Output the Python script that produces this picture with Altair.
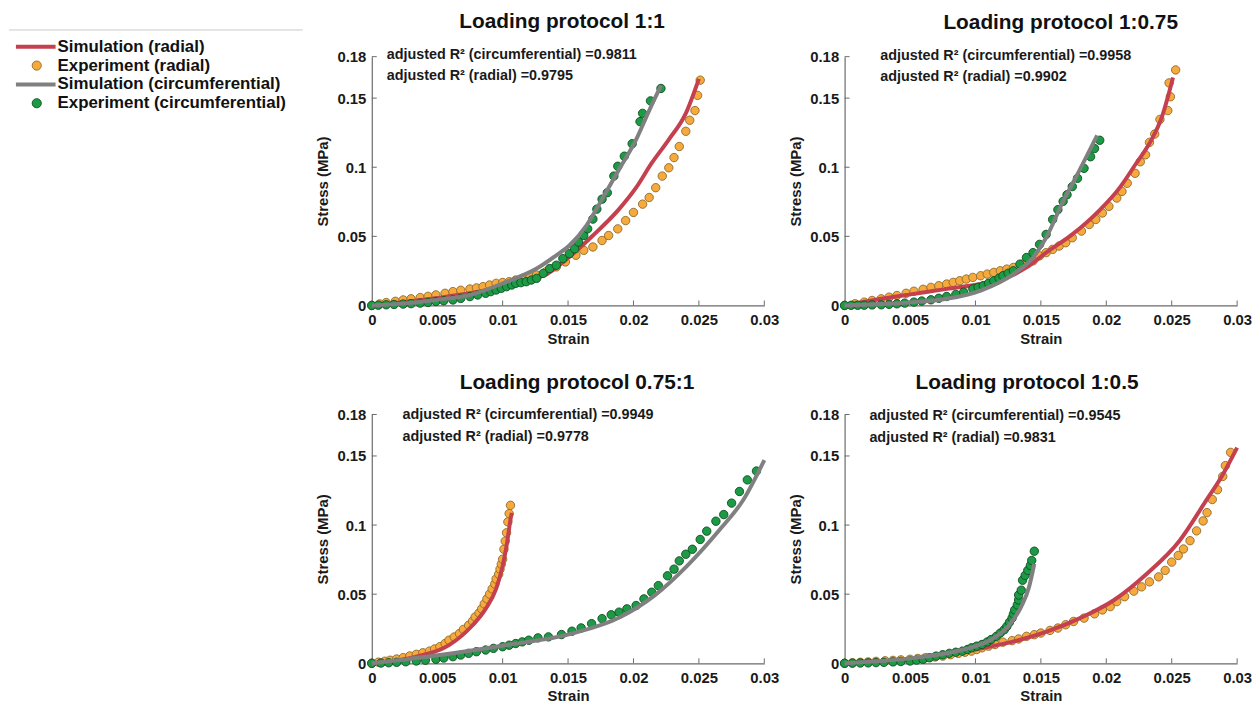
import altair as alt
import pandas as pd

FONT = "Liberation Sans"
RED = "#C4404E"
GRAY = "#808080"
ORANGE = "#F7AA3C"
GREEN = "#1C9A45"
ORANGE_EDGE = "#8C6A2C"
GREEN_EDGE = "#0E4F22"

SERIES = ["Simulation (radial)", "Experiment (radial)",
          "Simulation (circumferential)", "Experiment (circumferential)"]
SERIES_COLORS = [RED, ORANGE, GRAY, GREEN]
SERIES_EDGES = [RED, ORANGE_EDGE, GRAY, GREEN_EDGE]

X_TICKS = [0, 0.005, 0.01, 0.015, 0.02, 0.025, 0.03]
Y_TICKS = [0, 0.05, 0.1, 0.15, 0.18]

# ---------------- Panel 1 : Loading protocol 1:1 ----------------
p1_title = "Loading protocol 1:1"
p1_r2 = ["adjusted R\u00b2 (circumferential) =0.9811", "adjusted R\u00b2 (radial) =0.9795"]
p1_rad_exp_x = [0, 0.0006, 0.0011, 0.0018, 0.0024, 0.003, 0.0037, 0.0043, 0.0049, 0.0056, 0.0062, 0.0068,
                0.0075, 0.008, 0.0085, 0.009, 0.0095, 0.01, 0.0105, 0.011, 0.0115, 0.0121, 0.0126, 0.0133,
                0.0141, 0.0148, 0.0156, 0.0162, 0.0169, 0.0176, 0.0181, 0.0188, 0.0194, 0.02, 0.0207,
                0.0212, 0.0217, 0.0222, 0.0227, 0.0231, 0.0235, 0.024, 0.0243, 0.0247, 0.0249, 0.0251]
p1_rad_exp_y = [0, 0.0011, 0.0021, 0.003, 0.004, 0.0048, 0.0057, 0.0066, 0.0076, 0.0088, 0.01, 0.011,
                0.0119, 0.0127, 0.0136, 0.0148, 0.016, 0.0166, 0.0172, 0.0184, 0.0196, 0.0208, 0.022, 0.0243,
                0.0279, 0.0315, 0.0363, 0.0399, 0.0423, 0.047, 0.0506, 0.0554, 0.0614, 0.0673, 0.0733,
                0.0781, 0.0852, 0.0936, 0.0996, 0.107, 0.115, 0.126, 0.134, 0.141, 0.152, 0.163]
p1_rad_sim_x = [0, 0.0025, 0.0049, 0.0075, 0.01, 0.012, 0.0133, 0.0151, 0.0169, 0.0189, 0.0202, 0.0214,
                0.0227, 0.024, 0.025]
p1_rad_sim_y = [0, 0.0025, 0.0053, 0.0088, 0.0136, 0.0184, 0.0224, 0.0351, 0.0506, 0.0697, 0.0852, 0.1031,
                0.12, 0.139, 0.164]
p1_circ_exp_x = [0, 0.0005, 0.0011, 0.0017, 0.0024, 0.003, 0.0037, 0.0043, 0.0049, 0.0055, 0.0062, 0.0068,
                 0.0075, 0.0081, 0.0087, 0.0091, 0.0095, 0.0099, 0.0103, 0.0107, 0.011, 0.0114, 0.0118,
                 0.0122, 0.0126, 0.0131, 0.0136, 0.0141, 0.0146, 0.0151, 0.0155, 0.0158, 0.0162, 0.0165,
                 0.0169, 0.0172, 0.0176, 0.018, 0.0185, 0.0188, 0.0193, 0.0199, 0.0205, 0.0207, 0.0213, 0.0221]
p1_circ_exp_y = [0, 0.0002, 0.0005, 0.0007, 0.001, 0.0013, 0.0017, 0.0022, 0.0029, 0.0034, 0.004, 0.0051,
                 0.0064, 0.0076, 0.0088, 0.01, 0.0112, 0.0124, 0.0136, 0.0148, 0.016, 0.0165, 0.0172,
                 0.0184, 0.0196, 0.0232, 0.0267, 0.0291, 0.0339, 0.0375, 0.041, 0.0458, 0.0506, 0.0554,
                 0.0625, 0.0697, 0.0769, 0.0816, 0.0936, 0.1007, 0.108, 0.117, 0.133, 0.139, 0.148, 0.157]
p1_circ_sim_x = [0, 0.0025, 0.0049, 0.0075, 0.01, 0.0126, 0.0141, 0.0151, 0.0164, 0.0176, 0.0189, 0.0202,
                 0.0212, 0.0221]
p1_circ_sim_y = [0, 0.0015, 0.004, 0.0076, 0.016, 0.0267, 0.0363, 0.0434, 0.0578, 0.0769, 0.0984, 0.12,
                 0.141, 0.159]

# ---------------- Panel 2 : Loading protocol 1:0.75 ----------------
p2_title = "Loading protocol 1:0.75"
p2_r2 = ["adjusted R\u00b2 (circumferential) =0.9958", "adjusted R\u00b2 (radial) =0.9902"]
p2_rad_exp_x = [0, 0.0008, 0.0015, 0.0021, 0.0028, 0.0034, 0.004, 0.0047, 0.0053, 0.006, 0.0066, 0.0072,
                0.0078, 0.0083, 0.0088, 0.0093, 0.0098, 0.0104, 0.0109, 0.0114, 0.0119, 0.0124, 0.0129,
                0.0136, 0.0144, 0.0149, 0.0154, 0.0159, 0.0164, 0.0169, 0.0174, 0.0181, 0.0187, 0.0192,
                0.0197, 0.0202, 0.0208, 0.0212, 0.0216, 0.0222, 0.0226, 0.023, 0.0233, 0.0237, 0.0241,
                0.0247, 0.0249, 0.0248, 0.0253]
p2_rad_exp_y = [0, 0.0012, 0.0024, 0.0036, 0.0048, 0.006, 0.0072, 0.0088, 0.0103, 0.0117, 0.0131, 0.0143,
                0.0155, 0.0167, 0.0179, 0.0191, 0.0203, 0.0215, 0.0227, 0.0239, 0.0251, 0.0263, 0.0275,
                0.0299, 0.0323, 0.0359, 0.0382, 0.0406, 0.043, 0.0454, 0.049, 0.0538, 0.0586, 0.0622,
                0.0669, 0.0717, 0.0777, 0.0825, 0.0884, 0.0956, 0.104, 0.109, 0.118, 0.124, 0.1346,
                0.141, 0.151, 0.161, 0.1704]
p2_rad_sim_x = [0, 0.0028, 0.0053, 0.0078, 0.0104, 0.0125, 0.0139, 0.0154, 0.0174, 0.0194, 0.021, 0.0222,
                0.0235, 0.0242, 0.0251]
p2_rad_sim_y = [0, 0.0048, 0.0084, 0.012, 0.0155, 0.0205, 0.0275, 0.0382, 0.0514, 0.0681, 0.0849, 0.1016,
                0.1207, 0.1351, 0.165]
p2_circ_exp_x = [0, 0.0005, 0.001, 0.0015, 0.0021, 0.0028, 0.0034, 0.004, 0.0046, 0.0053, 0.0059, 0.0066,
                 0.0072, 0.0078, 0.0085, 0.0091, 0.0098, 0.0102, 0.0106, 0.011, 0.0114, 0.0118, 0.0121,
                 0.0125, 0.0129, 0.0134, 0.0139, 0.0144, 0.0149, 0.0154, 0.0159, 0.0163, 0.0167, 0.017,
                 0.0174, 0.0178, 0.0183, 0.0188, 0.0191, 0.0195]
p2_circ_exp_y = [0, 0.0001, 0.0001, 0.0002, 0.0004, 0.0005, 0.0008, 0.0012, 0.0017, 0.0024, 0.0032, 0.0041,
                 0.0052, 0.0065, 0.008, 0.0096, 0.012, 0.0131, 0.0143, 0.0161, 0.0179, 0.0197, 0.0215,
                 0.0233, 0.0251, 0.0299, 0.0347, 0.0382, 0.0442, 0.0514, 0.0622, 0.0693, 0.0753, 0.0801,
                 0.086, 0.092, 0.0992, 0.1076, 0.1135, 0.1195]
p2_circ_sim_x = [0, 0.0025, 0.0053, 0.0078, 0.0104, 0.0129, 0.0144, 0.0154, 0.0167, 0.0179, 0.0193]
p2_circ_sim_y = [0, 0.0008, 0.0024, 0.0048, 0.0108, 0.0227, 0.0347, 0.049, 0.0753, 0.0968, 0.123]

# ---------------- Panel 3 : Loading protocol 0.75:1 ----------------
p3_title = "Loading protocol 0.75:1"
p3_r2 = ["adjusted R\u00b2 (circumferential) =0.9949", "adjusted R\u00b2 (radial) =0.9778"]
p3_rad_exp_x = [0, 0.0005, 0.001, 0.0014, 0.0019, 0.0024, 0.0029, 0.0034, 0.0039, 0.0044, 0.0048, 0.0052,
                0.0056, 0.0059, 0.0063, 0.0067, 0.007, 0.0074, 0.0077, 0.0079, 0.0082, 0.0084, 0.0086,
                0.0088, 0.009, 0.0092, 0.0094, 0.0095, 0.0097, 0.0098, 0.0099, 0.01, 0.0101, 0.0102,
                0.0103, 0.0104, 0.0105, 0.0106]
p3_rad_exp_y = [0, 0.0008, 0.0015, 0.0022, 0.0031, 0.0041, 0.0053, 0.0065, 0.0076, 0.0088, 0.0104, 0.012,
                0.0143, 0.0167, 0.019, 0.0215, 0.0245, 0.0275, 0.0305, 0.0335, 0.0364, 0.0394, 0.043,
                0.0466, 0.05, 0.0538, 0.0574, 0.061, 0.0645, 0.0681, 0.0717, 0.0753, 0.0825, 0.0884,
                0.0944, 0.1023, 0.1083, 0.1143]
p3_rad_sim_x = [0, 0.0018, 0.0034, 0.0059, 0.0077, 0.0087, 0.0095, 0.01, 0.0103, 0.0106, 0.0107]
p3_rad_sim_y = [0, 0.0018, 0.0048, 0.0131, 0.0275, 0.0394, 0.0538, 0.0705, 0.0849, 0.104, 0.1088]
p3_circ_exp_x = [0, 0.0007, 0.0013, 0.0019, 0.0026, 0.0034, 0.0041, 0.0049, 0.0055, 0.0062, 0.0068, 0.0074,
                 0.008, 0.0087, 0.0093, 0.01, 0.0105, 0.011, 0.0115, 0.012, 0.0127, 0.0135, 0.0145,
                 0.0153, 0.016, 0.0168, 0.0176, 0.0183, 0.0189, 0.0195, 0.0202, 0.0208, 0.0214, 0.0219,
                 0.0226, 0.0231, 0.0235, 0.024, 0.0245, 0.0251, 0.0256, 0.0263, 0.0269, 0.0275, 0.0281,
                 0.0287, 0.0294]
p3_circ_exp_y = [0, 0.0002, 0.0004, 0.0007, 0.0011, 0.0017, 0.0022, 0.0029, 0.0038, 0.0048, 0.006, 0.0072,
                 0.0084, 0.0096, 0.0108, 0.012, 0.0131, 0.0143, 0.0155, 0.0167, 0.0184, 0.0191, 0.0208,
                 0.0232, 0.0256, 0.0287, 0.0323, 0.0351, 0.037, 0.0394, 0.0418, 0.0466, 0.0514, 0.0562,
                 0.0633, 0.0681, 0.0741, 0.0789, 0.0825, 0.0896, 0.0956, 0.1028, 0.1076, 0.1159, 0.1243,
                 0.1327, 0.1391]
p3_circ_sim_x = [0, 0.0052, 0.0102, 0.0153, 0.019, 0.0216, 0.0241, 0.0266, 0.0284, 0.03]
p3_circ_sim_y = [0, 0.006, 0.0131, 0.0215, 0.0335, 0.049, 0.0705, 0.0968, 0.1183, 0.147]

# ---------------- Panel 4 : Loading protocol 1:0.5 ----------------
p4_title = "Loading protocol 1:0.5"
p4_r2 = ["adjusted R\u00b2 (circumferential) =0.9545", "adjusted R\u00b2 (radial) =0.9831"]
p4_rad_exp_x = [0, 0.0006, 0.0012, 0.0018, 0.0024, 0.0031, 0.0037, 0.0043, 0.005, 0.0056, 0.0062, 0.0069,
                0.0075, 0.0081, 0.0087, 0.0092, 0.0097, 0.0101, 0.0105, 0.011, 0.0115, 0.0121, 0.0128,
                0.0133, 0.0139, 0.0145, 0.015, 0.0157, 0.0163, 0.0169, 0.0175, 0.0183, 0.0191, 0.0197,
                0.0203, 0.0208, 0.0214, 0.0221, 0.0227, 0.0233, 0.024, 0.0245, 0.025, 0.0255, 0.0259,
                0.0264, 0.0269, 0.0274, 0.0277, 0.0281, 0.0285, 0.0289, 0.0291, 0.0295]
p4_rad_exp_y = [0, 0.0004, 0.0007, 0.001, 0.0014, 0.0018, 0.0021, 0.0025, 0.0029, 0.0035, 0.0041, 0.0046,
                0.0052, 0.0062, 0.0072, 0.008, 0.0088, 0.01, 0.0112, 0.0124, 0.0136, 0.0153, 0.0164,
                0.0176, 0.0195, 0.0207, 0.0219, 0.0238, 0.0255, 0.0279, 0.0303, 0.0327, 0.0358, 0.0386,
                0.041, 0.0446, 0.0482, 0.0522, 0.0553, 0.0589, 0.0625, 0.0672, 0.0732, 0.078, 0.0827,
                0.0887, 0.0958, 0.103, 0.109, 0.1185, 0.1256, 0.1352, 0.143, 0.1526]
p4_rad_sim_x = [0, 0.0055, 0.008, 0.01, 0.013, 0.0155, 0.018, 0.0206, 0.0231, 0.0256, 0.0276, 0.0289, 0.03]
p4_rad_sim_y = [0, 0.0029, 0.0064, 0.01, 0.016, 0.0231, 0.0327, 0.0458, 0.0648, 0.0887, 0.1173, 0.1364, 0.156]
p4_circ_exp_x = [0, 0.0006, 0.0012, 0.0018, 0.0024, 0.003, 0.0037, 0.0043, 0.005, 0.0055, 0.006, 0.0065,
                 0.007, 0.0075, 0.008, 0.0085, 0.009, 0.0094, 0.0097, 0.0101, 0.0105, 0.0109, 0.0112,
                 0.0116, 0.0119, 0.0122, 0.0124, 0.0126, 0.0128, 0.0129, 0.013, 0.0132, 0.0133, 0.0133,
                 0.0135, 0.0136, 0.0138, 0.014, 0.0142, 0.0143, 0.0145]
p4_circ_exp_y = [0, 0.0001, 0.0002, 0.0003, 0.0005, 0.0007, 0.001, 0.0013, 0.0017, 0.0023, 0.0029, 0.004,
                 0.0052, 0.0062, 0.0072, 0.008, 0.0088, 0.01, 0.0112, 0.0124, 0.0136, 0.0154, 0.0172,
                 0.0195, 0.0219, 0.0243, 0.0267, 0.0297, 0.0327, 0.0356, 0.0386, 0.0422, 0.0458, 0.0494,
                 0.0529, 0.0601, 0.0636, 0.0672, 0.0708, 0.0744, 0.0811]
p4_circ_sim_x = [0, 0.0055, 0.008, 0.01, 0.0112, 0.0125, 0.0135, 0.0141, 0.0145]
p4_circ_sim_y = [0, 0.0041, 0.0076, 0.0124, 0.0172, 0.0267, 0.041, 0.0553, 0.072]

PW, PH = 396, 251


def frame(xs, ys, name):
    return pd.DataFrame({"strain": xs, "stress": ys, "series": name})


X_SCALE = alt.Scale(domain=[0, 0.03], nice=False, zero=False)
Y_SCALE = alt.Scale(domain=[0, 0.18], nice=False, zero=False)
COLOR = alt.Color("series:N", scale=alt.Scale(domain=SERIES, range=SERIES_COLORS), legend=None)
EDGE = alt.Stroke("series:N", scale=alt.Scale(domain=SERIES, range=SERIES_EDGES), legend=None)

X_AX = alt.Axis(values=X_TICKS, format="~g", title="Strain", labelFlush=False, ticks=False,
                grid=False, domainColor="#6a6a6a", labelPadding=7, titlePadding=4)
Y_AX = alt.Axis(values=Y_TICKS, format="~g", title="Stress (MPa)", ticks=False, grid=False,
                domainColor="#6a6a6a", labelPadding=6, titlePadding=6)


def panel(title, dx, r2, ann_x, ann_y, rad_exp, rad_sim, circ_exp, circ_sim):
    x = alt.X("strain:Q", scale=X_SCALE, axis=X_AX)
    y = alt.Y("stress:Q", scale=Y_SCALE, axis=Y_AX)
    pts_rad = alt.Chart(frame(*rad_exp, SERIES[1])).mark_point(
        filled=True, size=72, strokeWidth=0.9, opacity=1).encode(x=x, y=y, fill=COLOR, stroke=EDGE)
    line_rad = alt.Chart(frame(*rad_sim, SERIES[0])).mark_line(
        strokeWidth=4, interpolate="monotone").encode(x=x, y=y, color=COLOR)
    pts_circ = alt.Chart(frame(*circ_exp, SERIES[3])).mark_point(
        filled=True, size=72, strokeWidth=0.9, opacity=1).encode(x=x, y=y, fill=COLOR, stroke=EDGE)
    line_circ = alt.Chart(frame(*circ_sim, SERIES[2])).mark_line(
        strokeWidth=4, interpolate="monotone").encode(x=x, y=y, color=COLOR)
    xt = alt.Chart(pd.DataFrame({"strain": X_TICKS})).mark_rule(color="#6a6a6a").encode(
        x=alt.X("strain:Q", scale=X_SCALE, axis=X_AX), y=alt.value(PH), y2=alt.value(PH - 5))
    yt = alt.Chart(pd.DataFrame({"stress": Y_TICKS})).mark_rule(color="#6a6a6a").encode(
        y=alt.Y("stress:Q", scale=Y_SCALE, axis=Y_AX), x=alt.value(0), x2=alt.value(5))
    txt = dict(align="left", baseline="middle", font=FONT, fontSize=14.5, fontWeight="bold", color="#1a1a1a")
    ann1 = alt.Chart(pd.DataFrame({"t": [r2[0]]})).mark_text(**txt).encode(
        text="t:N", x=alt.value(ann_x), y=alt.value(ann_y))
    ann2 = alt.Chart(pd.DataFrame({"t": [r2[1]]})).mark_text(**txt).encode(
        text="t:N", x=alt.value(ann_x), y=alt.value(ann_y + 22))
    return alt.layer(xt, yt, pts_rad, line_rad, pts_circ, line_circ, ann1, ann2).properties(
        width=PW, height=PH,
        title=alt.TitleParams(title, frame="group", anchor="middle", dx=dx, offset=15,
                              font=FONT, fontSize=21, fontWeight="bold", color="#111111"))


p1 = panel(p1_title, -6, p1_r2, 15, -2, (p1_rad_exp_x, p1_rad_exp_y), (p1_rad_sim_x, p1_rad_sim_y),
           (p1_circ_exp_x, p1_circ_exp_y), (p1_circ_sim_x, p1_circ_sim_y))
p2 = panel(p2_title, 20, p2_r2, 36, -1, (p2_rad_exp_x, p2_rad_exp_y), (p2_rad_sim_x, p2_rad_sim_y),
           (p2_circ_exp_x, p2_circ_exp_y), (p2_circ_sim_x, p2_circ_sim_y))
p3 = panel(p3_title, 9, p3_r2, 31, 1, (p3_rad_exp_x, p3_rad_exp_y), (p3_rad_sim_x, p3_rad_sim_y),
           (p3_circ_exp_x, p3_circ_exp_y), (p3_circ_sim_x, p3_circ_sim_y))
p4 = panel(p4_title, -14, p4_r2, 25, 2, (p4_rad_exp_x, p4_rad_exp_y), (p4_rad_sim_x, p4_rad_sim_y),
           (p4_circ_exp_x, p4_circ_exp_y), (p4_circ_sim_x, p4_circ_sim_y))

# ---------------- Legend ----------------
legend_kind = ["line", "point", "line", "point"]
legend_row = [0, 1, 2, 3]
leg_df = pd.DataFrame({"series": SERIES, "kind": legend_kind, "row": legend_row})
LY = alt.Y("row:Q", scale=alt.Scale(domain=[0, 3], range=[-10, 47]), axis=None)
leg_line = alt.Chart(leg_df).transform_filter(alt.datum.kind == "line").mark_rule(strokeWidth=4).encode(
    y=LY, x=alt.value(-2), x2=alt.value(38), color=COLOR)
leg_pt = alt.Chart(leg_df).transform_filter(alt.datum.kind == "point").mark_point(
    filled=True, size=85, strokeWidth=0.9, opacity=1).encode(y=LY, x=alt.value(19), fill=COLOR, stroke=EDGE)
leg_txt = alt.Chart(leg_df).mark_text(align="left", baseline="middle", font=FONT, fontSize=17,
                                      fontWeight="bold", color="#111111").encode(
    y=LY, x=alt.value(40), text="series:N")
leg_box = alt.Chart(leg_df).mark_rule(color="#e3e3e3", strokeWidth=1).encode(
    x=alt.value(-9), x2=alt.value(287), y=alt.value(-27))
legend = alt.layer(leg_box, leg_line, leg_pt, leg_txt).properties(width=290, height=60)

grid = alt.vconcat(alt.hconcat(p1, p2, spacing=9), alt.hconcat(p3, p4, spacing=9), spacing=26)
chart = alt.hconcat(legend, grid, spacing=10).properties(padding=0).configure_view(
    stroke=None).configure_axis(
    labelFont=FONT, labelFontSize=15, labelFontWeight="bold", labelColor="#1a1a1a",
    titleFont=FONT, titleFontSize=15, titleFontWeight="bold", titleColor="#1a1a1a",
    domainWidth=1.2)

chart.save("out.html", embed_options={"renderer": "svg", "actions": False})
